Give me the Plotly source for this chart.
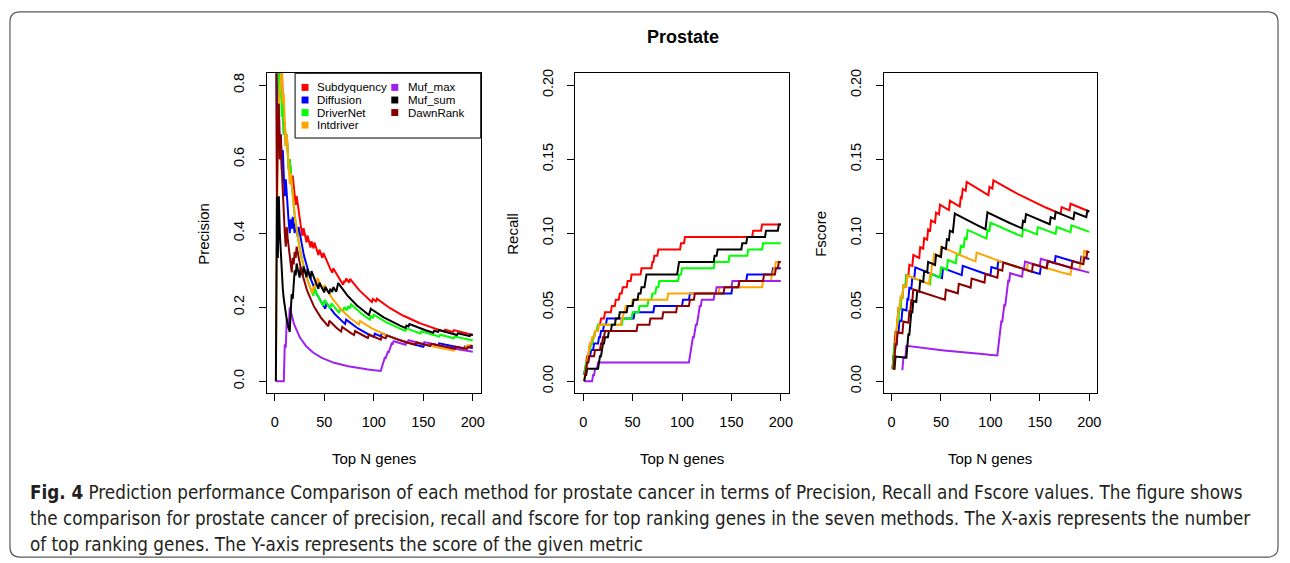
import plotly.graph_objects as go

# ---------------- data ----------------
N_TOP = list(range(1, 201))          # top N genes on the x axis
N_TRUE = 236                         # size of the reference driver-gene set

methods = ["Subdyquency", "Diffusion", "DriverNet", "Intdriver",
           "Muf_max", "Muf_sum", "DawnRank"]
colors = ["#FF0000", "#0000FF", "#00FF00", "#FFA500",
          "#A020F0", "#000000", "#8B0000"]

# ranks at which each method hits a true driver gene
subdyquency_hits = [1, 2, 3, 4, 6, 7, 10, 12, 15, 18, 22, 29, 33, 37, 40, 45, 49,
                    59, 70, 72, 76, 99, 103, 172, 181]
diffusion_hits = [1, 2, 4, 6, 8, 11, 16, 18, 21, 24, 52, 72, 101, 108, 151, 158,
                  166, 192]
drivernet_hits = [1, 2, 3, 5, 6, 8, 10, 12, 15, 40, 50, 57, 66, 70, 74, 77, 97,
                  100, 133, 148, 167, 182]
intdriver_hits = [2, 3, 4, 5, 6, 7, 9, 12, 16, 39, 41, 43, 50, 86, 138, 182, 191,
                  193, 195]
muf_max_hits = [10, 12, 15, 108, 109, 110, 111, 113, 114, 116, 117, 118, 120, 133,
                135, 151]
muf_sum_hits = [2, 4, 16, 17, 19, 20, 22, 26, 29, 33, 37, 45, 51, 56, 59, 63, 64,
                96, 97, 133, 136, 161, 166, 185, 198]
dawnrank_hits = [1, 3, 4, 6, 12, 18, 20, 22, 55, 68, 81, 95, 108, 113, 143, 158,
                 183, 195, 198]

all_hits = [subdyquency_hits, diffusion_hits, drivernet_hits, intdriver_hits,
            muf_max_hits, muf_sum_hits, dawnrank_hits]

x_ticks = [0, 50, 100, 150, 200]
prec_ticks = [0.0, 0.2, 0.4, 0.6, 0.8]
prec_tick_text = ["0.0", "0.2", "0.4", "0.6", "0.8"]
rf_ticks = [0.0, 0.05, 0.10, 0.15, 0.20]
rf_tick_text = ["0.00", "0.05", "0.10", "0.15", "0.20"]

title_text = "Prostate"
caption_lines = [
    "<b>Fig. 4</b> Prediction performance Comparison of each method for prostate cancer in terms of Precision, Recall and Fscore values. The figure shows",
    "the comparison for prostate cancer of precision, recall and fscore for top ranking genes in the seven methods. The X-axis represents the number",
    "of top ranking genes. The Y-axis represents the score of the given metric",
]

# ---------------- helpers ----------------
W, H = 1290, 563


def px(x):
    return x / W


def py(y):
    return 1 - y / H


def cumulative(hits):
    s = set(hits)
    c, out = 0, []
    for n in N_TOP:
        if n in s:
            c += 1
        out.append(c)
    return out


FONT = "Liberation Sans, Arial, Helvetica, sans-serif"

fig = go.Figure()

for name, col, hits in zip(methods, colors, all_hits):
    h = cumulative(hits)
    prec = [k / n for k, n in zip(h, N_TOP)]
    rec = [k / N_TRUE for k in h]
    fs = [(2 * p * r / (p + r)) if (p + r) > 0 else None for p, r in zip(prec, rec)]
    line = dict(color=col, width=2)
    fig.add_trace(go.Scatter(x=N_TOP, y=prec, mode="lines", line=line, name=name,
                             showlegend=False, xaxis="x", yaxis="y"))
    fig.add_trace(go.Scatter(x=N_TOP, y=rec, mode="lines", line=line, name=name,
                             showlegend=False, xaxis="x2", yaxis="y2"))
    fig.add_trace(go.Scatter(x=N_TOP, y=fs, mode="lines", line=line, name=name,
                             showlegend=False, xaxis="x3", yaxis="y3",
                             connectgaps=False))

ydom = [py(391.9), py(69.8)]
xdoms = [[px(267.8), px(482.2)], [px(577.1), px(791.2)], [px(886.4), px(1100.6)]]

axis_common = dict(showline=True, mirror=True, linecolor="black", linewidth=1,
                   ticks="outside", ticklen=7, tickwidth=1, tickcolor="black",
                   showgrid=False, zeroline=False,
                   tickfont=dict(family=FONT, size=14.5, color="black"))

layout = dict(
    width=W, height=H, margin=dict(l=0, r=0, t=0, b=0),
    paper_bgcolor="white", plot_bgcolor="white", showlegend=False,
)
for i, dom in enumerate(xdoms):
    sfx = "" if i == 0 else str(i + 1)
    layout["xaxis" + sfx] = dict(axis_common, domain=dom, range=[-8, 208],
                                 tickvals=x_ticks, ticklabelstandoff=8,
                                 anchor="y" + sfx)
    if i == 0:
        yv, yt, yr = prec_ticks, prec_tick_text, [-0.032, 0.832]
    else:
        yv, yt, yr = rf_ticks, rf_tick_text, [-0.008, 0.208]
    layout["yaxis" + sfx] = dict(axis_common, domain=ydom, range=yr, tickvals=yv,
                                 ticktext=yt, tickangle=-90, ticklabelstandoff=9,
                                 anchor="x" + sfx)
fig.update_layout(**layout)

ann = []


def note(x, y, text, size, family=FONT, xanchor="center", angle=0, color="black"):
    ann.append(dict(x=px(x), y=py(y), xref="paper", yref="paper", text=text,
                    xanchor=xanchor, yanchor="middle", textangle=angle,
                    showarrow=False, font=dict(family=family, size=size, color=color)))


# axis titles
for cx in [375, 684, 993]:
    note(cx, 458, "Top N genes", 15)
for cx, t in [(204, "Precision"), (514, "Recall"), (823, "Fscore")]:
    note(cx, 231, t, 15, angle=-90)
# title
note(685, 33, "<b>" + title_text + "</b>", 18)
# caption
for i, line in enumerate(caption_lines):
    note(28, 492 + 26 * i, line, 18.7,
         family="DejaVu Sans Condensed, Liberation Sans Narrow, sans-serif",
         xanchor="left", color="#231f20")

shapes = []
# legend box
shapes.append(dict(type="rect", xref="paper", yref="paper", x0=px(296), x1=px(482.2),
                   y0=py(135), y1=py(69.8), line=dict(color="black", width=1),
                   fillcolor="white", layer="above"))
leg_cols = [(306, 316), (396, 407)]
leg_rows = [84, 96.7, 109.3, 122]
for i, (name, col) in enumerate(zip(methods, colors)):
    c = 0 if i < 4 else 1
    r = i if i < 4 else i - 4
    sx, tx = leg_cols[c]
    yy = leg_rows[r]
    shapes.append(dict(type="rect", xref="paper", yref="paper", x0=px(sx - 3.5),
                       x1=px(sx + 3.5), y0=py(yy + 3.5), y1=py(yy - 3.5),
                       line=dict(width=0), fillcolor=col, layer="above"))
    note(tx, yy, name, 11.5, xanchor="left")

# outer rounded frame
x0, x1, y0, y1, rr = 10, 1282, 8, 557, 10
path = (f"M {px(x0 + rr)},{py(y0)} L {px(x1 - rr)},{py(y0)} "
        f"Q {px(x1)},{py(y0)} {px(x1)},{py(y0 + rr)} L {px(x1)},{py(y1 - rr)} "
        f"Q {px(x1)},{py(y1)} {px(x1 - rr)},{py(y1)} L {px(x0 + rr)},{py(y1)} "
        f"Q {px(x0)},{py(y1)} {px(x0)},{py(y1 - rr)} L {px(x0)},{py(y0 + rr)} "
        f"Q {px(x0)},{py(y0)} {px(x0 + rr)},{py(y0)} Z")
shapes.append(dict(type="path", xref="paper", yref="paper", path=path,
                   line=dict(color="#58595b", width=1.2), layer="below"))

fig.update_layout(annotations=ann, shapes=shapes)
fig.write_html("out.html")
